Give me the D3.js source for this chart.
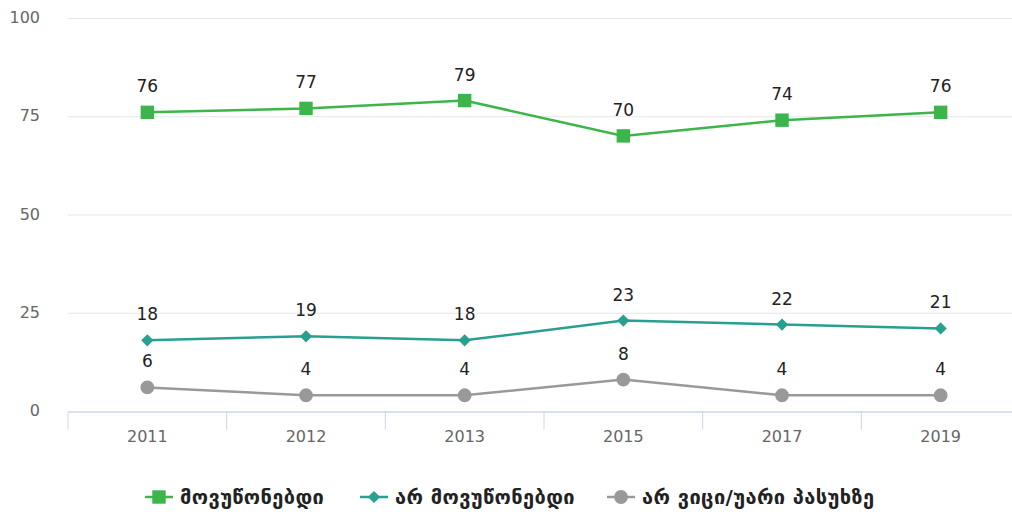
<!DOCTYPE html>
<html><head><meta charset="utf-8">
<script src="https://cdn.jsdelivr.net/npm/d3@7"></script>
<style>body{margin:0;background:#fff}svg{display:block}</style>
</head><body>
<svg id="c" width="1012" height="516"></svg>
<script>
const categories = ["2011","2012","2013","2015","2017","2019"];
const seriesNames = ["მოვუწონებდი","არ მოვუწონებდი","არ ვიცი/უარი პასუხზე"];
const likeVals = [76,77,79,70,74,76];
const dislikeVals = [18,19,18,23,22,21];
const dkVals = [6,4,4,8,4,4];
const yTicks = [0,25,50,75,100];
const colors = ["#3cb54a","#27a08f","#999999"];

const sq = d3.symbol().type(d3.symbolSquare).size(180);
const dia = d3.symbol().type(d3.symbolSquare).size(75);
const circ = d3.symbol().type(d3.symbolCircle).size(150);
const symDefs = [{p:sq,rot:0},{p:dia,rot:45},{p:circ,rot:0}];

const series = [likeVals, dislikeVals, dkVals].map((v,i)=>({name:seriesNames[i], values:v, color:colors[i], sym:symDefs[i]}));

const svg = d3.select("#c");
const font = "'DejaVu Sans', sans-serif";
const x = d3.scaleBand().domain(categories).range([68,1020]);
const y = d3.scaleLinear().domain([0,100]).range([411,18]);

// grid
svg.append("g").selectAll("line").data(yTicks.filter(t=>t>0)).join("line")
  .attr("x1",68).attr("x2",1012).attr("y1",d=>y(d)+0.5).attr("y2",d=>y(d)+0.5)
  .attr("stroke","#e6e6e6").attr("stroke-width",1);

// y labels
svg.append("g").selectAll("text").data(yTicks).join("text")
  .attr("x",40).attr("y",d=>y(d)+5).attr("text-anchor","end")
  .attr("font-family",font).attr("font-size",16).attr("fill","#666")
  .text(d=>d);

// x axis
const xAxis = d3.axisBottom(x).tickSize(0).tickPadding(19);
const gx = svg.append("g").attr("transform","translate(0,411.5)").call(xAxis);
gx.select(".domain").attr("stroke","#ccd6eb").attr("stroke-width",1.5);
gx.selectAll("text").attr("font-family",font).attr("font-size",16).attr("fill","#666");
const bounds = categories.map(c=>x(c)).concat([x.range()[1]]);
gx.selectAll("line.bt").data(bounds).join("line").attr("class","bt")
  .attr("x1",d=>d).attr("x2",d=>d).attr("y1",0).attr("y2",18)
  .attr("stroke","#ccd6eb").attr("stroke-width",1);

const cx = c => x(c) + x.bandwidth()/2;
const line = d3.line().x((d,i)=>cx(categories[i])).y(d=>y(d));

series.forEach(s=>{
  const g = svg.append("g");
  g.append("path").attr("d",line(s.values)).attr("fill","none").attr("stroke",s.color).attr("stroke-width",2.5);
  g.selectAll("path.m").data(s.values).join("path").attr("class","m")
    .attr("d",s.sym.p())
    .attr("transform",(d,i)=>`translate(${cx(categories[i])},${y(d)}) rotate(${s.sym.rot})`)
    .attr("fill",s.color);
  g.selectAll("text").data(s.values).join("text")
    .attr("x",(d,i)=>cx(categories[i])).attr("y",d=>y(d)-20)
    .attr("text-anchor","middle").attr("font-family",font).attr("font-size",17).attr("fill","#222")
    .text(d=>d);
});

// legend
const legX = [145, 360, 607];
const lg = svg.append("g");
series.forEach((s,i)=>{
  const g = lg.append("g").attr("transform",`translate(${legX[i]},497)`);
  g.append("line").attr("x1",0).attr("x2",28).attr("y1",0).attr("y2",0).attr("stroke",s.color).attr("stroke-width",2.5);
  g.append("path").attr("d",s.sym.p()).attr("transform",`translate(14,0) rotate(${s.sym.rot})`).attr("fill",s.color);
  g.append("text").attr("x",35).attr("y",7).attr("font-family",font).attr("font-weight","bold")
    .attr("font-size",20).attr("letter-spacing",0.4).attr("fill","#222").text(s.name);
});
</script>
</body></html>
